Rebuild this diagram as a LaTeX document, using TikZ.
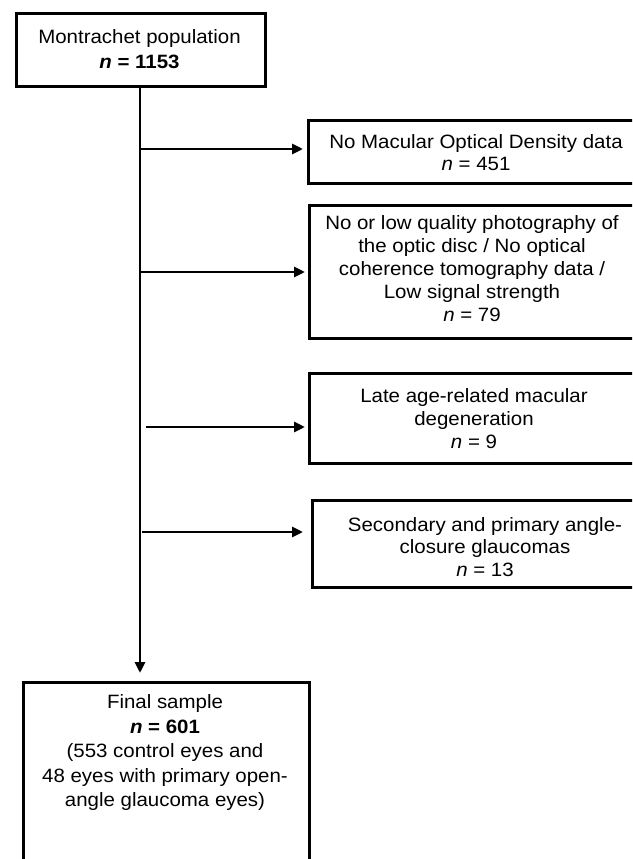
\documentclass[tikz,border=0pt]{standalone}
\usepackage{fontspec}
\setmainfont{Liberation Sans}[FakeStretch=1.06]
\usetikzlibrary{arrows.meta}
\tikzset{
  boxframe/.style={draw=black, line width=3.4pt, fill=white, inner sep=0pt},
  boxtext/.style={align=center, inner sep=0pt, font=\fontsize{19.3}{#1}\selectfont},
  arr/.style={line width=2.8pt, -{Triangle[length=11pt,width=10pt]}},
}
\begin{document}
\begin{tikzpicture}[x=1pt,y=-1pt]
\useasboundingbox (0,0) rectangle (632,859);
\clip (0,0) rectangle (632,859);
\fill[white] (0,0) rectangle (632,859);

% boxes
\node[boxframe, anchor=north west, minimum width=249pt, minimum height=73pt] (top) at (15,12) {};
\node[boxframe, anchor=north west, minimum width=340pt, minimum height=63pt] (b1) at (307,119) {};
\node[boxframe, anchor=north west, minimum width=340pt, minimum height=133pt] (b2) at (308,204) {};
\node[boxframe, anchor=north west, minimum width=340pt, minimum height=90pt] (b3) at (308,372) {};
\node[boxframe, anchor=north west, minimum width=340pt, minimum height=87pt] (b4) at (311,499) {};
\node[boxframe, anchor=north west, minimum width=286pt, minimum height=220pt] (fin) at (22,681) {};

% texts
\node[boxtext=25] (ttop) at (139.5,49) {Montrachet population\\\textbf{\textit{n} = 1153}};
\node[boxtext=22] (t1) at (476,153) {No Macular Optical Density data\\\textit{n} = 451};
\node[boxtext=23] (t2) at (472,269) {No or low quality photography of\\the optic disc / No optical\\coherence tomography data /\\Low signal strength\\\textit{n} = 79};
\node[boxtext=23] (t3) at (474,419) {Late age-related macular\\degeneration\\\textit{n} = 9};
\node[boxtext=22.5] (t4) at (485,547) {Secondary and primary angle-\\closure glaucomas\\\textit{n} = 13};
\node[boxtext=24.5] (tfin) at (165,753) {Final sample\\\textbf{\textit{n} = 601}\\(553 control eyes and\\48 eyes with primary open-\\angle glaucoma eyes)};

% trunk
\coordinate (s0) at (140,85);
\coordinate (s1) at (140,673);
\draw[arr] (s0) -- (s1);

% branches
\coordinate (j1) at (140,149);
\coordinate (j2) at (140,272);
\coordinate (j3) at (146,427);
\coordinate (j4) at (142,532);
\draw[arr, shorten >=4pt] (j1) -- (j1 -| b1.west);
\draw[arr, shorten >=3pt] (j2) -- (j2 -| b2.west);
\draw[arr, shorten >=3pt] (j3) -- (j3 -| b3.west);
\draw[arr, shorten >=8pt] (j4) -- (j4 -| b4.west);
\end{tikzpicture}
\end{document}
